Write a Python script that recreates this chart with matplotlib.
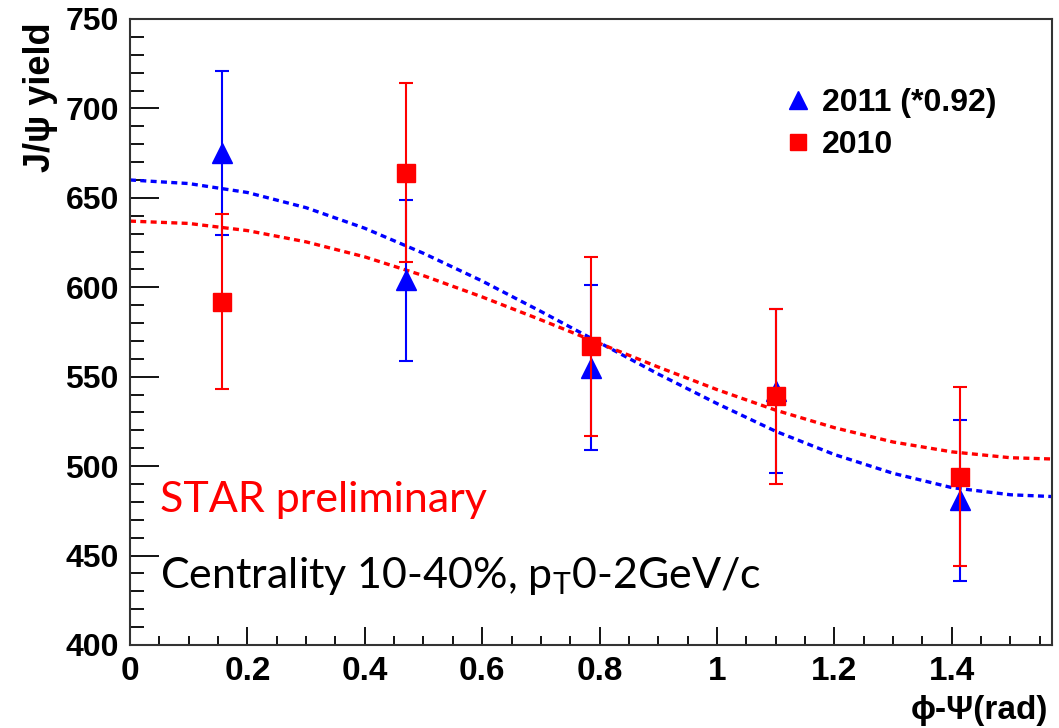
import numpy as np
import matplotlib
matplotlib.use("Agg")
import matplotlib.pyplot as plt
from matplotlib.lines import Line2D
from matplotlib.ticker import MultipleLocator

plt.rcParams['font.family'] = ['Liberation Sans', 'DejaVu Sans']
plt.rcParams['mathtext.fontset'] = 'custom'
plt.rcParams['mathtext.rm'] = 'Lato'

# phi - Psi bin centres (rad)
x_bins = [0.157, 0.471, 0.785, 1.100, 1.414]

# 2011 data (scaled by 0.92)
y_2011 = [675, 604, 555, 542, 481]
err_2011 = [46, 45, 46, 46, 45]

# 2010 data
y_2010 = [592, 664, 567, 539, 494]
err_2010 = [49, 50, 50, 49, 50]

# fit curves
x_fit = [0.0, 0.1, 0.2, 0.3, 0.4, 0.5, 0.6, 0.7, 0.8, 0.9, 1.0, 1.1, 1.2, 1.3, 1.4, 1.5, 1.5708]
fit_2011 = [660, 658, 653, 644.5, 633, 619, 603.5, 586.5, 569, 551.5, 535, 519.5, 506.5, 496, 488, 484, 483]
fit_2010 = [637, 635.7, 631.7, 625.4, 617, 606.5, 594.6, 581.8, 568.6, 555.4, 542.8, 531.3, 521.5, 513.5, 508, 504.7, 504]

fig = plt.figure(figsize=(10.59, 7.28), dpi=100)
ax = fig.add_axes([130 / 1059, 1 - 645 / 728, 922 / 1059, 626 / 728])

# fits
ax.plot(x_fit, fit_2011, color='#0000ff', lw=2.4, ls=(0, (1.8, 1.3)), zorder=2)
ax.plot(x_fit, fit_2010, color='#ff0000', lw=2.4, ls=(0, (1.8, 1.3)), zorder=2)

# data points
ax.errorbar(x_bins, y_2011, yerr=err_2011, fmt='^', color='#0000ff', ms=14,
            elinewidth=1.5, capsize=5, capthick=1.5, zorder=3)
ax.errorbar(x_bins, y_2010, yerr=err_2010, fmt='s', color='#ff0000', ms=13.5,
            elinewidth=1.5, capsize=5, capthick=1.5, zorder=4)

ax.set_xlim(0, np.pi / 2)
ax.set_ylim(400, 750)

ax.xaxis.set_major_locator(MultipleLocator(0.2))
ax.xaxis.set_minor_locator(MultipleLocator(0.05))
ax.yaxis.set_major_locator(MultipleLocator(50))
ax.yaxis.set_minor_locator(MultipleLocator(10))
ax.xaxis.set_major_formatter(plt.FuncFormatter(lambda v, p: f"{v:g}"))

ax.tick_params(axis='x', which='major', direction='in', length=13, width=1.3, pad=8)
ax.tick_params(axis='x', which='minor', direction='in', length=6.5, width=1.3)
ax.tick_params(axis='y', which='major', direction='in', length=21, width=1.3, pad=8)
ax.tick_params(axis='y', which='minor', direction='in', length=10, width=1.3)
for lab in ax.get_xticklabels():
    lab.set_fontsize(24)
    lab.set_fontweight('bold')
for lab in ax.get_yticklabels():
    lab.set_fontsize(23)
    lab.set_fontweight('bold')
for sp in ax.spines.values():
    sp.set_linewidth(1.5)
    sp.set_color('#333333')

# legend
handles = [Line2D([], [], marker='^', color='#0000ff', ls='none', ms=13),
           Line2D([], [], marker='s', color='#ff0000', ls='none', ms=12)]
ax.legend(handles, ['2011 (*0.92)', '2010'], loc='upper left',
          bbox_to_anchor=(772 / 1059, 1 - 72 / 728), bbox_transform=fig.transFigure,
          frameon=False, prop={'size': 23, 'weight': 'bold'},
          handlelength=0.6, handletextpad=0.45, labelspacing=0.38, borderpad=0)

# annotations
ax.text(160 / 1059, 1 - 500 / 728, 'STAR preliminary', transform=fig.transFigure,
        color='#ff0000', fontsize=31, family='Lato', va='center', ha='left')
ax.text(160 / 1059, 1 - 576 / 728, r'Centrality 10-40%, p$_\mathrm{T}$0-2GeV/c',
        transform=fig.transFigure, color='black', fontsize=31, family='Lato',
        va='center', ha='left')

fig.text(40 / 1059, 1 - 22 / 728, 'J/\u03c8 yield', rotation=90, va='top', ha='center',
         fontsize=26, fontweight='bold')
fig.text(1048 / 1059, 1 - 710 / 728, '\u03d5-\u03a8(rad)', va='center', ha='right',
         fontsize=24, fontweight='bold')

fig.savefig('out.png', dpi=100)
